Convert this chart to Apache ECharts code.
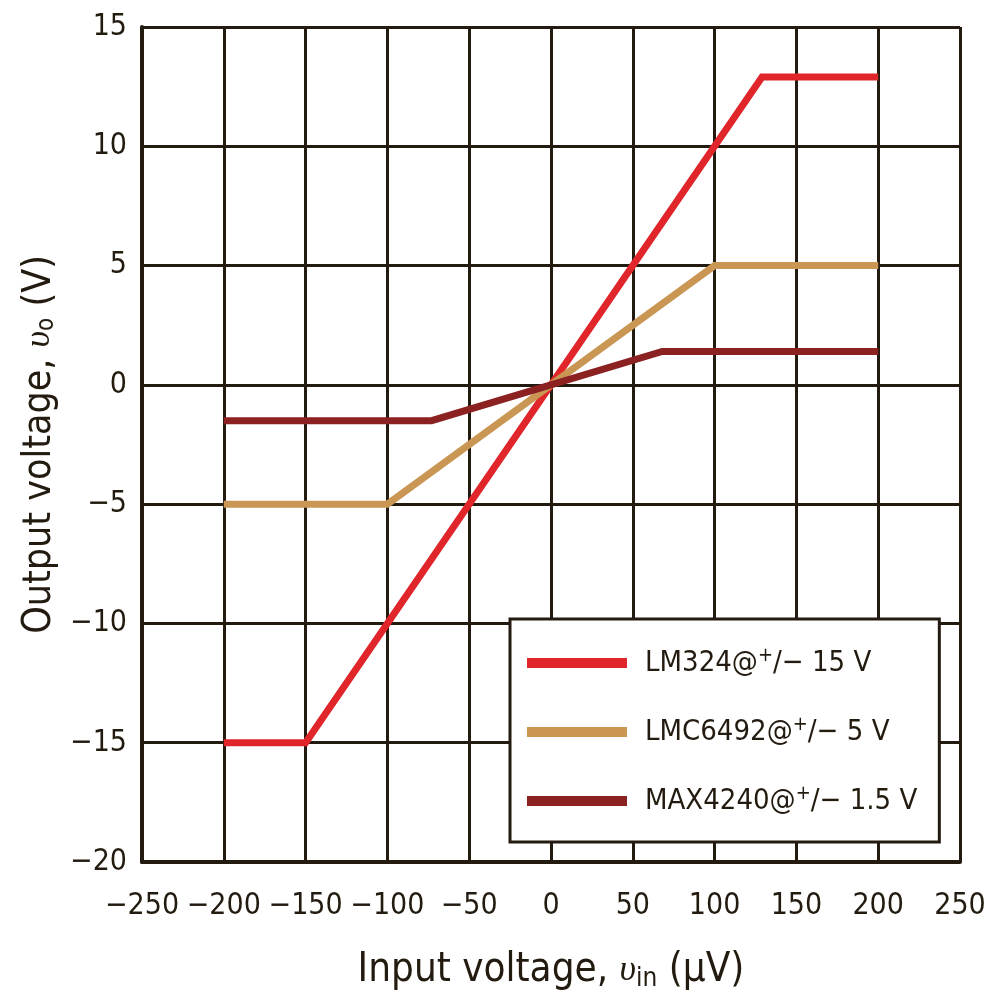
<!DOCTYPE html>
<html>
<head>
<meta charset="utf-8">
<script src="https://cdn.jsdelivr.net/npm/echarts@6/dist/echarts.min.js"></script>
<style>
  html, body { margin: 0; padding: 0; background: #fff; }
  #chart { width: 992px; height: 997px; }
</style>
</head>
<body>
<div id="chart"></div>
<script>
// values (input µV, output V)
const lm324X = [-200, -150, 129, 200]
const lm324Y = [-15, -15, 12.9, 12.9]
const lmc6492X = [-200, -100, 100, 200]
const lmc6492Y = [-5, -5, 5, 5]
const max4240X = [-200, -73, 68, 200]
const max4240Y = [-1.5, -1.5, 1.4, 1.4]

const seriesNames = ['LM324', 'LMC6492', 'MAX4240']
const supplyLabels = ['15 V', '5 V', '1.5 V']
const colors = ['#e0262b', '#c99653', '#8b2121']

const FONT = '"Liberation Sans Narrow", "DejaVu Sans Condensed", "Liberation Sans", sans-serif'
const INK = '#231b10'

const zip = (xs, ys) => xs.map((x, i) => [x, ys[i]])
const minus = v => String(v).replace('-', '\u2212')

const chart = echarts.init(document.getElementById('chart'))

const lineSeries = (name, xs, ys, color) => ({
  name: name,
  type: 'line',
  symbol: 'none',
  z: 5,
  itemStyle: { color: color },
  lineStyle: { color: color, width: 7, cap: 'butt', join: 'miter' },
  data: zip(xs, ys)
})

const option = {
  animation: false,
  backgroundColor: '#fff',
  grid: {
    left: 142,
    right: 32,
    top: 27,
    bottom: 135,
    containLabel: false
  },
  xAxis: {
    type: 'value',
    min: -250,
    max: 250,
    interval: 50,
    name: '{n|Input voltage, }{i|υ}{sub|in}{n| (µV)}',
    nameLocation: 'middle',
    nameGap: 88,
    nameTextStyle: {
      rich: {
        n: { fontFamily: FONT, fontSize: 40, color: INK },
        i: { fontFamily: 'Liberation Serif, serif', fontStyle: 'italic', fontSize: 36, color: INK },
        sub: { fontFamily: FONT, fontSize: 26, color: INK, padding: [16, 0, 0, 0] }
      }
    },
    axisLine: { show: true, onZero: false, lineStyle: { color: INK, width: 4 } },
    axisTick: { show: false },
    splitLine: { show: true, lineStyle: { color: INK, width: 3 } },
    axisLabel: {
      margin: 29,
      fontFamily: FONT,
      fontSize: 30,
      color: INK,
      formatter: minus
    }
  },
  yAxis: {
    type: 'value',
    min: -20,
    max: 15,
    interval: 5,
    name: '{n|Output voltage, }{i|υ}{sub|o}{n| (V)}',
    nameLocation: 'middle',
    nameRotate: 90,
    nameGap: 72,
    nameTextStyle: {
      rich: {
        n: { fontFamily: FONT, fontSize: 39, color: INK },
        i: { fontFamily: 'Liberation Serif, serif', fontStyle: 'italic', fontSize: 36, color: INK },
        sub: { fontFamily: FONT, fontSize: 24, color: INK, padding: [14, 0, 0, 0] }
      }
    },
    axisLine: { show: true, onZero: false, lineStyle: { color: INK, width: 4 } },
    axisTick: { show: false },
    splitLine: { show: true, lineStyle: { color: INK, width: 3 } },
    axisLabel: {
      margin: 15,
      fontFamily: FONT,
      fontSize: 30,
      color: INK,
      formatter: minus
    }
  },
  legend: {
    orient: 'vertical',
    left: 510,
    top: 619,
    icon: 'rect',
    itemWidth: 100,
    itemHeight: 10,
    itemGap: 35,
    padding: [27, 22, 24, 17],
    backgroundColor: '#fff',
    borderColor: INK,
    borderWidth: 3,
    borderRadius: 0,
    z: 10,
    data: seriesNames,
    formatter: name => {
      const i = seriesNames.indexOf(name)
      return '{a|' + name + '@}{sup|+}{a|/\u2212 ' + supplyLabels[i] + '}'
    },
    textStyle: {
      width: 270,
      padding: [0, 0, 0, 13],
      rich: {
        a: { fontFamily: FONT, fontSize: 29, color: INK, lineHeight: 30 },
        sup: { fontFamily: FONT, fontSize: 20, color: INK, lineHeight: 16, padding: [0, 0, 14, 0] }
      }
    }
  },
  series: [
    lineSeries(seriesNames[0], lm324X, lm324Y, colors[0]),
    lineSeries(seriesNames[1], lmc6492X, lmc6492Y, colors[1]),
    lineSeries(seriesNames[2], max4240X, max4240Y, colors[2])
  ]
}

chart.setOption(option)
</script>
</body>
</html>
